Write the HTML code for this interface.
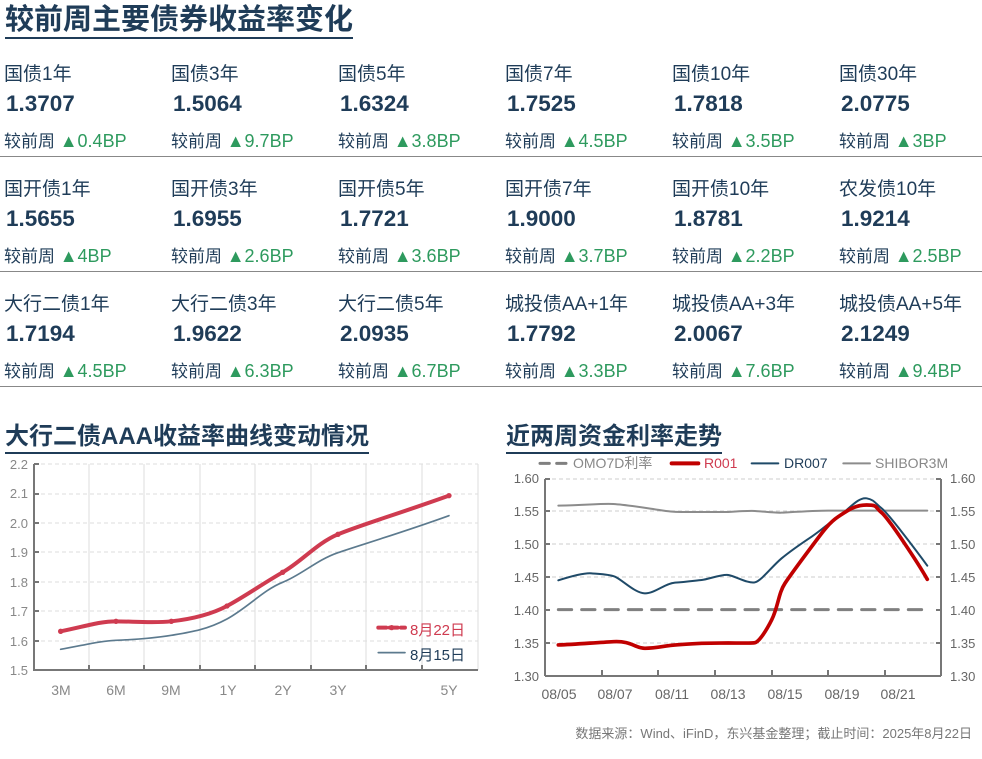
<!DOCTYPE html>
<html><head><meta charset="utf-8"><style>
body{margin:0;width:982px;height:759px;background:#fff;position:relative;overflow:hidden;font-family:"Liberation Sans","Noto Sans CJK SC",sans-serif;}
.a{position:absolute;white-space:nowrap}
.t{font-weight:bold;color:#1f3c58;font-size:29px;border-bottom:2px solid #1f3c58;line-height:34px}
.l{font-size:19px;color:#1f3c58}
.v{font-size:22.5px;font-weight:bold;color:#1f3c58}
.c{font-size:17px;color:#1f3c58}
.c span{color:#2e9a5e;font-size:18px}
.hr{position:absolute;left:0;width:982px;height:1px;background:#888}
</style></head><body>
<div class="a t" style="left:5px;top:3px;">较前周主要债券收益率变化</div>
<div id="g"></div>
<div class="hr" style="top:156px"></div>
<div class="hr" style="top:271px"></div>
<div class="hr" style="top:386px"></div>
<div class="a t" style="left:5px;top:422px;font-size:24px;line-height:30px">大行二债AAA收益率曲线变动情况</div>
<div class="a t" style="left:506px;top:422px;font-size:24px;line-height:30px">近两周资金利率走势</div>
<svg class="a" style="left:0;top:0" width="982" height="759">
<g font-family="Liberation Sans,sans-serif" font-size="13" fill="#888">
<g stroke="#ddd" stroke-dasharray="4,3">
<line x1="34" x2="478" y1="464" y2="464"/><line x1="34" x2="478" y1="494" y2="494"/><line x1="34" x2="478" y1="523" y2="523"/><line x1="34" x2="478" y1="552" y2="552"/><line x1="34" x2="478" y1="582" y2="582"/><line x1="34" x2="478" y1="611" y2="611"/><line x1="34" x2="478" y1="641" y2="641"/>
</g>
<g stroke="#ddd"><line x1="89" x2="89" y1="464" y2="670"/><line x1="144" x2="144" y1="464" y2="670"/><line x1="200" x2="200" y1="464" y2="670"/><line x1="255" x2="255" y1="464" y2="670"/><line x1="311" x2="311" y1="464" y2="670"/><line x1="366" x2="366" y1="464" y2="670"/><line x1="422" x2="422" y1="464" y2="670"/><line x1="478" x2="478" y1="464" y2="670"/></g>
<g stroke="#777" stroke-width="2"><line x1="34" x2="34" y1="464" y2="671"/><line x1="34" x2="478" y1="670" y2="670"/>
<line x1="89" x2="89" y1="665" y2="670"/><line x1="144" x2="144" y1="665" y2="670"/><line x1="200" x2="200" y1="665" y2="670"/><line x1="255" x2="255" y1="665" y2="670"/><line x1="311" x2="311" y1="665" y2="670"/><line x1="366" x2="366" y1="665" y2="670"/><line x1="422" x2="422" y1="665" y2="670"/><line x1="34" x2="39" y1="464" y2="464"/><line x1="34" x2="39" y1="494" y2="494"/><line x1="34" x2="39" y1="523" y2="523"/><line x1="34" x2="39" y1="552" y2="552"/><line x1="34" x2="39" y1="582" y2="582"/><line x1="34" x2="39" y1="611" y2="611"/><line x1="34" x2="39" y1="641" y2="641"/></g>
<g text-anchor="end"><text x="28" y="469">2.2</text><text x="28" y="498">2.1</text><text x="28" y="528">2.0</text><text x="28" y="557">1.9</text><text x="28" y="587">1.8</text><text x="28" y="616">1.7</text><text x="28" y="646">1.6</text><text x="28" y="675">1.5</text></g>
<g text-anchor="middle" font-size="14"><text x="61" y="695">3M</text><text x="116" y="695">6M</text><text x="171" y="695">9M</text><text x="228" y="695">1Y</text><text x="283" y="695">2Y</text><text x="338" y="695">3Y</text><text x="449" y="695">5Y</text></g>
<g transform="translate(0,420) scale(0.3333)" fill="none" stroke-linecap="round" stroke-linejoin="round">
<path d="M182,688 C260,674 300,663 348,661 S460,655 514,646 S620,630 681,597 S790,510 848,487 S950,420 1014,398 S1200,340 1347,287" stroke="#5c7a8e" stroke-width="5"/>
<path d="M182,634 C260,618 300,604 348,604 S460,610 514,604 S630,585 681,558 S790,490 848,457 S950,370 1014,343 S1200,280 1347,227" stroke="#cf3b50" stroke-width="12"/>
<g fill="#cf3b50" stroke="none"><circle cx="182" cy="634" r="8"/><circle cx="348" cy="604" r="8"/><circle cx="514" cy="604" r="8"/><circle cx="681" cy="558" r="8"/><circle cx="848" cy="457" r="8"/><circle cx="1014" cy="343" r="8"/><circle cx="1347" cy="227" r="8"/></g>
<line x1="1135" y1="623" x2="1215" y2="623" stroke="#cf3b50" stroke-width="12" stroke-dasharray="24,10"/><circle cx="1175" cy="623" r="8" fill="#cf3b50"/>
<line x1="1135" y1="698" x2="1215" y2="698" stroke="#5c7a8e" stroke-width="5"/>
</g>
<text x="410" y="635" font-size="15" fill="#cf3b50">8月22日</text>
<text x="410" y="660" font-size="15" fill="#1f3c58">8月15日</text>
<g stroke="#ccc" stroke-dasharray="4,3"><line x1="545" x2="941" y1="479" y2="479"/><line x1="545" x2="941" y1="511" y2="511"/><line x1="545" x2="941" y1="544" y2="544"/><line x1="545" x2="941" y1="577" y2="577"/><line x1="545" x2="941" y1="643" y2="643"/></g>
<g stroke="#777" stroke-width="2"><line x1="545" x2="545" y1="479" y2="676"/><line x1="941" x2="941" y1="479" y2="676"/><line x1="545" x2="941" y1="676" y2="676"/>
<line x1="602" x2="602" y1="670" y2="676"/><line x1="658" x2="658" y1="670" y2="676"/><line x1="715" x2="715" y1="670" y2="676"/><line x1="772" x2="772" y1="670" y2="676"/><line x1="828" x2="828" y1="670" y2="676"/><line x1="885" x2="885" y1="670" y2="676"/>
<line x1="545" x2="550" y1="479" y2="479"/><line x1="545" x2="550" y1="511" y2="511"/><line x1="545" x2="550" y1="544" y2="544"/><line x1="545" x2="550" y1="577" y2="577"/><line x1="545" x2="550" y1="610" y2="610"/><line x1="545" x2="550" y1="643" y2="643"/>
<line x1="936" x2="941" y1="479" y2="479"/><line x1="936" x2="941" y1="511" y2="511"/><line x1="936" x2="941" y1="544" y2="544"/><line x1="936" x2="941" y1="577" y2="577"/><line x1="936" x2="941" y1="610" y2="610"/><line x1="936" x2="941" y1="643" y2="643"/></g>
<g font-size="13" fill="#666"><g text-anchor="end"><text x="539" y="483">1.60</text><text x="539" y="516">1.55</text><text x="539" y="549">1.50</text><text x="539" y="582">1.45</text><text x="539" y="615">1.40</text><text x="539" y="648">1.35</text><text x="539" y="681">1.30</text></g>
<text x="950" y="483">1.60</text><text x="950" y="516">1.55</text><text x="950" y="549">1.50</text><text x="950" y="582">1.45</text><text x="950" y="615">1.40</text><text x="950" y="648">1.35</text><text x="950" y="681">1.30</text>
<g text-anchor="middle" font-size="14"><text x="559" y="699">08/05</text><text x="615" y="699">08/07</text><text x="672" y="699">08/11</text><text x="728" y="699">08/13</text><text x="785" y="699">08/15</text><text x="842" y="699">08/19</text><text x="898" y="699">08/21</text></g></g>
<g transform="translate(495,420) scale(0.3333)" fill="none" stroke-linecap="round" stroke-linejoin="round">
<line x1="190" x2="1297" y1="569" y2="569" stroke="#808080" stroke-width="9" stroke-dasharray="40,30"/>
<path d="M190,257 C280,255 320,250 355,252 S440,262 480,268 S530,276 560,276 L700,276 S760,272 780,273 S840,279 860,278 S960,272 1000,272 L1297,272" stroke="#8c8c8c" stroke-width="6"/>
<path d="M190,481 C240,465 270,458 290,460 S340,462 360,470 S420,520 450,520 S510,490 540,488 S600,482 620,480 S680,462 700,465 S760,492 780,487 S830,440 860,415 S920,370 950,350 S1000,310 1030,290 S1090,230 1115,235 S1140,250 1160,265 S1270,400 1297,437" stroke="#1f4a68" stroke-width="6"/>
<path d="M190,675 C240,673 300,668 355,665 S420,685 450,685 S510,678 530,676 S600,671 620,670 L700,669 S770,670 780,668 S810,640 830,600 S850,520 870,490 S920,420 950,380 S1000,310 1030,290 S1080,255 1115,255 S1140,262 1160,278 S1270,430 1297,478" stroke="#c00000" stroke-width="11"/>
<line x1="135" x2="215" y1="130" y2="130" stroke="#808080" stroke-width="9" stroke-dasharray="28,22"/>
<line x1="530" x2="610" y1="130" y2="130" stroke="#c00000" stroke-width="12"/>
<line x1="770" x2="850" y1="130" y2="130" stroke="#1f4a68" stroke-width="6"/>
<line x1="1045" x2="1125" y1="130" y2="130" stroke="#8c8c8c" stroke-width="6"/>
</g>
<g font-size="14"><text x="573" y="468" fill="#888">OMO7D利率</text><text x="704" y="468" fill="#cf3b50">R001</text><text x="784" y="468" fill="#1f3c58">DR007</text><text x="875" y="468" fill="#888">SHIBOR3M</text></g>
<text x="972" y="738" text-anchor="end" font-size="13" fill="#777">数据来源：Wind、iFinD，东兴基金整理；截止时间：2025年8月22日</text>
</g></svg>
<script>
var d=[["国债1年","1.3707","0.4BP"],["国债3年","1.5064","9.7BP"],["国债5年","1.6324","3.8BP"],["国债7年","1.7525","4.5BP"],["国债10年","1.7818","3.5BP"],["国债30年","2.0775","3BP"],
["国开债1年","1.5655","4BP"],["国开债3年","1.6955","2.6BP"],["国开债5年","1.7721","3.6BP"],["国开债7年","1.9000","3.7BP"],["国开债10年","1.8781","2.2BP"],["农发债10年","1.9214","2.5BP"],
["大行二债1年","1.7194","4.5BP"],["大行二债3年","1.9622","6.3BP"],["大行二债5年","2.0935","6.7BP"],["城投债AA+1年","1.7792","3.3BP"],["城投债AA+3年","2.0067","7.6BP"],["城投债AA+5年","2.1249","9.4BP"]];
var h="";d.forEach(function(e,i){var x=4+(i%6)*167,y=Math.floor(i/6)*115;
h+='<div class="a l" style="left:'+x+'px;top:'+(59+y)+'px">'+e[0]+'</div><div class="a v" style="left:'+(x+2)+'px;top:'+(91+y)+'px">'+e[1]+'</div><div class="a c" style="left:'+x+'px;top:'+(127+y)+'px">较前周 <span>▲'+e[2]+'</span></div>';});
document.getElementById("g").innerHTML=h;
</script>
</body></html>
